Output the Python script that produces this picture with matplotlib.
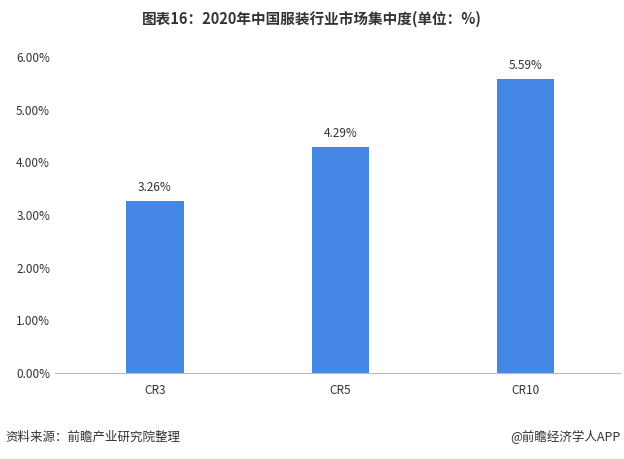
import matplotlib.pyplot as plt
from matplotlib.ticker import FuncFormatter

plt.rcParams['font.family'] = ['Noto Sans CJK SC', 'DejaVu Sans']

categories = ["CR3", "CR5", "CR10"]
values = [3.26, 4.29, 5.59]
y_ticks = [0, 1, 2, 3, 4, 5, 6]

fig = plt.figure(figsize=(6.24, 4.59), dpi=100)
ax = fig.add_axes([0.088, 0.187, 0.906, 0.689])

x = range(len(categories))
ax.bar(x, values, width=0.31, color="#4587E4")
for xi, v in zip(x, values):
    ax.text(xi, v + 0.13, f"{v:.2f}%", ha="center", va="bottom", fontsize=8.5, color="#333333")

ax.set_xlim(-0.54, 2.51)
ax.set_ylim(0, 6)
ax.set_yticks(y_ticks)
ax.yaxis.set_major_formatter(FuncFormatter(lambda v, _: f"{v:.2f}%"))
ax.set_xticks(list(x))
ax.set_xticklabels(categories)
ax.tick_params(axis="both", length=0, labelsize=8.5, colors="#333333")
ax.tick_params(axis="x", pad=8)
for side in ["top", "right", "left"]:
    ax.spines[side].set_visible(False)
ax.spines["bottom"].set_color("#BBBBBB")

fig.text(0.5, 0.958, "图表16：2020年中国服装行业市场集中度(单位：%)", ha="center", va="center",
         fontsize=10.5, fontweight="bold", color="#333333")
fig.text(0.008, 0.048, "资料来源：前瞻产业研究院整理", ha="left", va="center", fontsize=9, color="#333333")
fig.text(0.995, 0.048, "@前瞻经济学人APP", ha="right", va="center", fontsize=9, color="#333333")

fig.savefig("out.png", dpi=100)
